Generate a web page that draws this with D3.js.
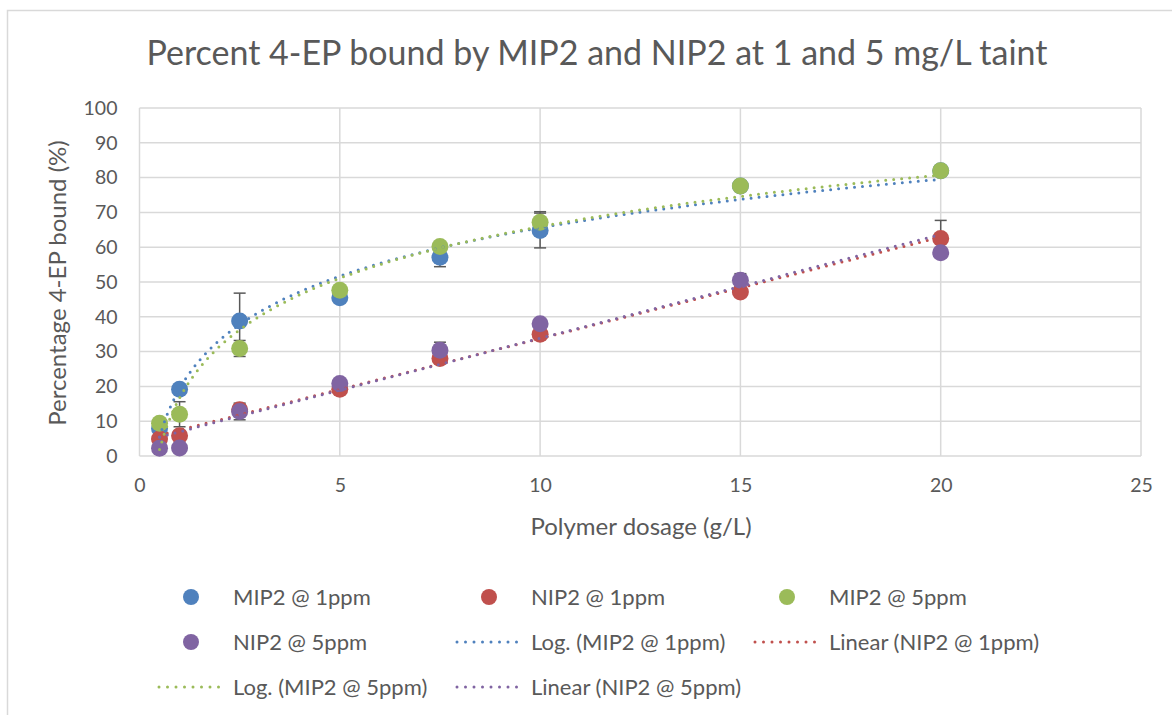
<!DOCTYPE html>
<html>
<head>
<meta charset="utf-8">
<script src="https://cdn.jsdelivr.net/npm/d3@7"></script>
<style>
  body { margin: 0; background: #fff; }
  text { font-family: Lato, "Open Sans", sans-serif; fill: #595959; }
</style>
</head>
<body>
<div id="chart"></div>
<script>
// données
var dosage = [0.5, 1, 2.5, 5, 7.5, 10, 15, 20];
var mip1 = [7.9, 19.2, 38.8, 45.5, 57.1, 64.8, 77.6, 82.0];
var nip1 = [4.9, 5.8, 13.3, 19.2, 28.0, 35.0, 47.1, 62.5];
var mip5 = [9.4, 12.0, 30.9, 47.6, 60.2, 67.2, 77.6, 82.0];
var nip5 = [2.2, 2.3, 12.8, 20.8, 30.4, 38.0, 50.5, 58.4];
var mip1Err = [1.0, 1.0, 8.0, 1.0, 2.7, 5.0, 1.0, 1.0];
var nip1Err = [1.0, 1.0, 1.5, 1.0, 1.0, 1.0, 1.0, 5.2];
var mip5Err = [1.0, 3.6, 2.3, 1.0, 1.0, 3.0, 1.0, 1.0];
var nip5Err = [0.5, 0.5, 2.4, 1.0, 2.3, 1.0, 1.9, 1.0];
var xTicks = [0, 5, 10, 15, 20, 25];
var yTicks = [0, 10, 20, 30, 40, 50, 60, 70, 80, 90, 100];

var W = 1172, H = 715;
var svg = d3.select("#chart").append("svg").attr("width", W).attr("height", H);

// cadre du graphique
svg.append("rect").attr("x", 7.5).attr("y", 10.5).attr("width", W + 10).attr("height", H + 10)
  .attr("fill", "#fff").attr("stroke", "#d9d9d9").attr("stroke-width", 1.5);

var x = d3.scaleLinear().domain([0, 25]).range([139.5, 1141]);
var y = d3.scaleLinear().domain([0, 100]).range([456, 108]);

// grille
svg.append("g").selectAll("line").data(yTicks).enter().append("line")
  .attr("x1", x(0)).attr("x2", x(25)).attr("y1", d => y(d)).attr("y2", d => y(d))
  .attr("stroke", "#d9d9d9").attr("stroke-width", 1.5);
svg.append("g").selectAll("line").data(xTicks).enter().append("line")
  .attr("y1", y(0)).attr("y2", y(100)).attr("x1", d => x(d)).attr("x2", d => x(d))
  .attr("stroke", "#d9d9d9").attr("stroke-width", 1.5);

// axes
var xAxis = svg.append("g").attr("transform", "translate(0," + y(0) + ")")
  .call(d3.axisBottom(x).tickValues(xTicks).tickSize(0).tickPadding(26));
var yAxis = svg.append("g").attr("transform", "translate(" + x(0) + ",0)")
  .call(d3.axisLeft(y).tickValues(yTicks).tickSize(0).tickPadding(22));
[xAxis, yAxis].forEach(function(a){
  a.select(".domain").remove();
  a.selectAll("text").style("font-size", "19.5px").attr("fill", "#595959");
});
xAxis.selectAll("text").attr("dy", "0.5em");

svg.append("text").attr("x", 597).attr("y", 65).attr("text-anchor", "middle")
  .style("font-size", "34px").text("Percent 4-EP bound by MIP2 and NIP2 at 1 and 5 mg/L taint");
svg.append("text").attr("x", 641).attr("y", 535).attr("text-anchor", "middle")
  .style("font-size", "24px").text("Polymer dosage (g/L)");
svg.append("text").attr("transform", "translate(66,283) rotate(-90)").attr("text-anchor", "middle")
  .style("font-size", "24px").text("Percentage 4-EP bound (%)");

var colors = { blue: "#4F81BD", red: "#C0504D", green: "#9BBB59", purple: "#8064A2" };

var series = [
  { name: "MIP2 @ 1ppm", vals: mip1, err: mip1Err, color: colors.blue, fit: "log" },
  { name: "NIP2 @ 1ppm", vals: nip1, err: nip1Err, color: colors.red, fit: "lin" },
  { name: "MIP2 @ 5ppm", vals: mip5, err: mip5Err, color: colors.green, fit: "log" },
  { name: "NIP2 @ 5ppm", vals: nip5, err: nip5Err, color: colors.purple, fit: "lin" }
];

// régression moindres carrés (courbe de tendance)
function fitLine(xs, ys) {
  var mx = d3.mean(xs), my = d3.mean(ys);
  var sxy = d3.sum(xs, (v, i) => (v - mx) * (ys[i] - my));
  var sxx = d3.sum(xs, v => (v - mx) * (v - mx));
  var b = sxy / sxx;
  return { a: my - b * mx, b: b };
}
function trend(s) {
  var xs = s.fit == "log" ? dosage.map(Math.log) : dosage;
  var c = fitLine(xs, s.vals);
  return d3.range(0.5, 20.001, 0.1).map(function(t){
    var u = s.fit == "log" ? Math.log(t) : t;
    return [t, c.a + c.b * u];
  });
}

var line = d3.line().x(d => x(d[0])).y(d => y(d[1]));

// barres d'erreur (sous les marqueurs)
series.forEach(function(s){
  var g = svg.append("g").attr("stroke", "#595959").attr("stroke-width", 1.5);
  s.vals.forEach(function(v, i){
    var cx = x(dosage[i]), t = y(v + s.err[i]), b = y(v - s.err[i]);
    g.append("line").attr("x1", cx).attr("x2", cx).attr("y1", t).attr("y2", b);
    g.append("line").attr("x1", cx - 6).attr("x2", cx + 6).attr("y1", t).attr("y2", t);
    g.append("line").attr("x1", cx - 6).attr("x2", cx + 6).attr("y1", b).attr("y2", b);
  });
});

// points
series.forEach(function(s){
  svg.append("g").selectAll("circle").data(s.vals).enter().append("circle")
    .attr("cx", (d, i) => x(dosage[i])).attr("cy", d => y(d)).attr("r", 8.5)
    .attr("fill", s.color);
});

// courbes de tendance
series.forEach(function(s){
  svg.append("path").datum(trend(s)).attr("d", line).attr("fill", "none")
    .attr("stroke", s.color).attr("stroke-width", 3)
    .attr("stroke-linecap", "round").attr("stroke-dasharray", "0 8");
});

// légende
var legend = [
  { type: "dot", color: colors.blue, label: "MIP2 @ 1ppm", col: 0, row: 0 },
  { type: "dot", color: colors.red, label: "NIP2 @ 1ppm", col: 1, row: 0 },
  { type: "dot", color: colors.green, label: "MIP2 @ 5ppm", col: 2, row: 0 },
  { type: "dot", color: colors.purple, label: "NIP2 @ 5ppm", col: 0, row: 1 },
  { type: "line", color: colors.blue, label: "Log. (MIP2 @ 1ppm)", col: 1, row: 1 },
  { type: "line", color: colors.red, label: "Linear (NIP2 @ 1ppm)", col: 2, row: 1 },
  { type: "line", color: colors.green, label: "Log. (MIP2 @ 5ppm)", col: 0, row: 2 },
  { type: "line", color: colors.purple, label: "Linear (NIP2 @ 5ppm)", col: 1, row: 2 }
];
var colX = [157, 455, 753], rowY = [597, 642, 687];
legend.forEach(function(l){
  var lx = colX[l.col], ly = rowY[l.row];
  if (l.type == "dot") {
    svg.append("circle").attr("cx", lx + 34).attr("cy", ly).attr("r", 8).attr("fill", l.color);
  } else {
    svg.append("line").attr("x1", lx + 2).attr("x2", lx + 70).attr("y1", ly).attr("y2", ly)
      .attr("stroke", l.color).attr("stroke-width", 3).attr("stroke-linecap", "round")
      .attr("stroke-dasharray", "0 8.5");
  }
  svg.append("text").attr("x", lx + 76).attr("y", ly).attr("dy", "0.35em")
    .style("font-size", "22px").text(l.label);
});
</script>
</body>
</html>
